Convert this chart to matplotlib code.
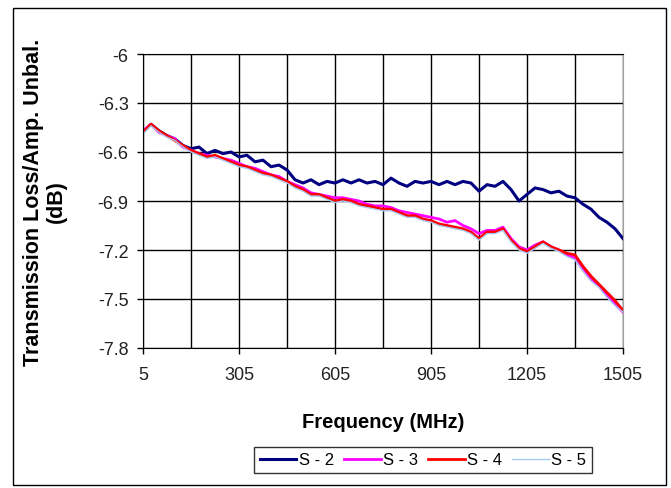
import matplotlib.pyplot as plt
from matplotlib.patches import Rectangle
import numpy as np

# Frequency grid (MHz)
freq = [5, 30, 55, 80, 105, 130, 155, 180, 205, 230, 255, 280, 305, 330, 355, 380,
        405, 430, 455, 480, 505, 530, 555, 580, 605, 630, 655, 680, 705, 730, 755, 780,
        805, 830, 855, 880, 905, 930, 955, 980, 1005, 1030, 1055, 1080, 1105, 1130, 1155,
        1180, 1205, 1230, 1255, 1280, 1305, 1330, 1355, 1380, 1405, 1430, 1455, 1480, 1505]

s2 = [-6.48, -6.43, -6.47, -6.50, -6.52, -6.56, -6.58, -6.57, -6.61, -6.59, -6.61, -6.60,
      -6.63, -6.62, -6.66, -6.65, -6.69, -6.68, -6.71, -6.77, -6.79, -6.77, -6.80, -6.78,
      -6.79, -6.77, -6.79, -6.77, -6.79, -6.78, -6.80, -6.76, -6.79, -6.81, -6.78, -6.79,
      -6.78, -6.80, -6.78, -6.80, -6.78, -6.79, -6.84, -6.80, -6.81, -6.78, -6.83, -6.90,
      -6.86, -6.82, -6.83, -6.85, -6.84, -6.87, -6.88, -6.92, -6.95, -7.00, -7.03, -7.07,
      -7.13]

s3 = [-6.47, -6.43, -6.48, -6.50, -6.52, -6.57, -6.59, -6.61, -6.62, -6.63, -6.64, -6.65,
      -6.67, -6.69, -6.70, -6.72, -6.74, -6.75, -6.78, -6.80, -6.82, -6.85, -6.86, -6.87,
      -6.88, -6.88, -6.89, -6.90, -6.92, -6.93, -6.93, -6.94, -6.96, -6.97, -6.98, -6.99,
      -7.00, -7.01, -7.03, -7.02, -7.05, -7.07, -7.10, -7.08, -7.08, -7.06, -7.13, -7.18,
      -7.20, -7.17, -7.15, -7.18, -7.20, -7.23, -7.25, -7.32, -7.38, -7.42, -7.48, -7.53,
      -7.58]

s4 = [-6.48, -6.43, -6.47, -6.50, -6.53, -6.56, -6.59, -6.61, -6.63, -6.62, -6.64, -6.66,
      -6.68, -6.69, -6.71, -6.73, -6.74, -6.76, -6.78, -6.81, -6.83, -6.86, -6.86, -6.88,
      -6.90, -6.89, -6.90, -6.92, -6.93, -6.94, -6.95, -6.95, -6.97, -6.99, -6.99, -7.01,
      -7.02, -7.04, -7.05, -7.06, -7.07, -7.09, -7.13, -7.09, -7.09, -7.07, -7.14, -7.19,
      -7.21, -7.18, -7.15, -7.18, -7.20, -7.22, -7.23, -7.30, -7.36, -7.41, -7.46, -7.51,
      -7.57]

s5 = [-6.49, -6.44, -6.48, -6.51, -6.53, -6.57, -6.60, -6.62, -6.64, -6.63, -6.65, -6.67,
      -6.69, -6.70, -6.72, -6.74, -6.75, -6.77, -6.79, -6.82, -6.84, -6.87, -6.87, -6.89,
      -6.91, -6.90, -6.91, -6.93, -6.94, -6.95, -6.96, -6.96, -6.98, -7.00, -7.00, -7.02,
      -7.03, -7.05, -7.06, -7.07, -7.08, -7.10, -7.14, -7.10, -7.10, -7.08, -7.15, -7.20,
      -7.22, -7.19, -7.16, -7.19, -7.21, -7.24, -7.26, -7.33, -7.39, -7.43, -7.49, -7.54,
      -7.58]

x_ticks = [5, 305, 605, 905, 1205, 1505]
y_ticks = [-6, -6.3, -6.6, -6.9, -7.2, -7.5, -7.8]
y_labels = ['-6', '-6.3', '-6.6', '-6.9', '-7.2', '-7.5', '-7.8']

plt.rcParams['font.family'] = ['Liberation Sans', 'DejaVu Sans']

W, H = 671, 489
fig = plt.figure(figsize=(W / 100, H / 100), dpi=100)

# outer chart frame
fig.patches.append(Rectangle((13 / W, 1 - 486 / H), 653 / W, 477 / H,
                             transform=fig.transFigure, fill=False,
                             edgecolor='black', linewidth=1))

ax = fig.add_axes([143 / W, 1 - 349 / H, 480 / W, 294 / H])

ax.plot(freq, s2, color='#000080', linewidth=2.2, label='S - 2')
ax.plot(freq, s3, color='#FF00FF', linewidth=2, label='S - 3')
ax.plot(freq, s4, color='#FF0000', linewidth=2, label='S - 4')
ax.plot(freq, s5, color='#A6CAF0', linewidth=1, label='S - 5')

ax.set_xlim(5, 1505)
ax.set_ylim(-7.8, -6)
ax.set_xticks(x_ticks)
ax.set_xticks(np.arange(155, 1505, 300), minor=True)
ax.set_yticks(y_ticks)
ax.set_yticklabels(y_labels)
ax.tick_params(axis='both', which='major', labelsize=13, length=4.3, width=1,
               color='black', labelcolor='#222222')
ax.tick_params(axis='x', which='minor', length=0)
ax.tick_params(axis='x', which='major', pad=9)
ax.tick_params(axis='y', which='major', pad=6)
ax.grid(True, which='both', color='black', linewidth=1)
ax.set_axisbelow(True)

for side in ['left', 'bottom', 'top']:
    ax.spines[side].set_color('black')
ax.spines['right'].set_color('#A0A0A0')

ax.set_xlabel('Frequency (MHz)', fontsize=14.5, fontweight='bold')
ax.xaxis.label.set_va('center')
ax.xaxis.set_label_coords(0.5, (349 - 423) / 294)

ax.set_ylabel('Transmission Loss/Amp. Unbal.\n(dB)', fontsize=15.5, fontweight='bold',
              linespacing=1.1)
ax.yaxis.label.set_va('center')
ax.yaxis.set_label_coords((45 - 143) / 480, 0.5)

leg = fig.legend(loc='center', bbox_to_anchor=(423 / W, 1 - 461 / H), ncol=4,
                 fontsize=12, frameon=True, fancybox=False, edgecolor='black',
                 handlelength=2.2, handletextpad=0.15, columnspacing=0.6,
                 borderpad=0.35, borderaxespad=0)
leg.get_frame().set_linewidth(1)

fig.savefig('out.png', dpi=100)
